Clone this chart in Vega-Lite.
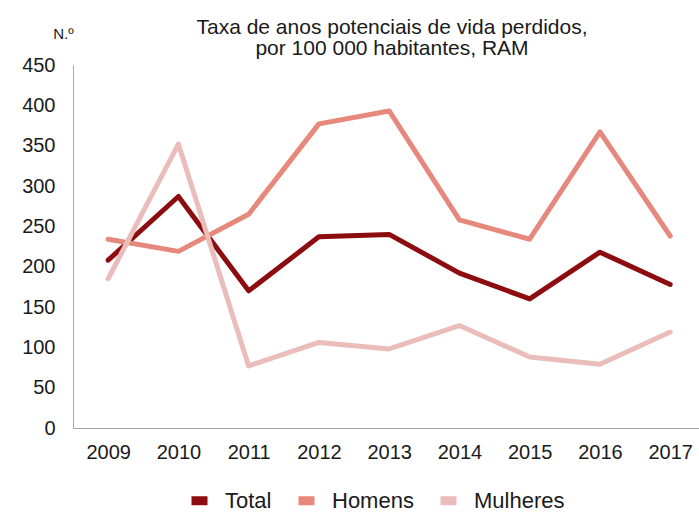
{
  "$schema": "https://vega.github.io/schema/vega-lite/v6.json",
  "width": 626,
  "height": 363,
  "autosize": {"type": "none"},
  "padding": {"left": 73, "top": 65, "right": 0, "bottom": 84},
  "background": "white",
  "config": {"view": {"stroke": null}, "font": "Liberation Sans"},
  "title": {
    "text": ["Taxa de anos potenciais de vida perdidos,", "por 100 000 habitantes, RAM"],
    "fontSize": 21,
    "fontWeight": "normal",
    "color": "#1a1a1a",
    "lineHeight": 21,
    "anchor": "middle",
    "offset": 10,
    "dx": 6,
    "dy": 43
  },
  "data": {
    "values": [
      {"year": 2009, "series": "Total", "value": 208},
      {"year": 2010, "series": "Total", "value": 287},
      {"year": 2011, "series": "Total", "value": 170},
      {"year": 2012, "series": "Total", "value": 237},
      {"year": 2013, "series": "Total", "value": 240},
      {"year": 2014, "series": "Total", "value": 192},
      {"year": 2015, "series": "Total", "value": 160},
      {"year": 2016, "series": "Total", "value": 218},
      {"year": 2017, "series": "Total", "value": 178},
      {"year": 2009, "series": "Homens", "value": 234},
      {"year": 2010, "series": "Homens", "value": 219},
      {"year": 2011, "series": "Homens", "value": 265},
      {"year": 2012, "series": "Homens", "value": 377},
      {"year": 2013, "series": "Homens", "value": 393},
      {"year": 2014, "series": "Homens", "value": 258},
      {"year": 2015, "series": "Homens", "value": 234},
      {"year": 2016, "series": "Homens", "value": 367},
      {"year": 2017, "series": "Homens", "value": 238},
      {"year": 2009, "series": "Mulheres", "value": 185},
      {"year": 2010, "series": "Mulheres", "value": 352},
      {"year": 2011, "series": "Mulheres", "value": 77},
      {"year": 2012, "series": "Mulheres", "value": 106},
      {"year": 2013, "series": "Mulheres", "value": 98},
      {"year": 2014, "series": "Mulheres", "value": 127},
      {"year": 2015, "series": "Mulheres", "value": 88},
      {"year": 2016, "series": "Mulheres", "value": 79},
      {"year": 2017, "series": "Mulheres", "value": 119}
    ]
  },
  "mark": {"type": "line", "strokeWidth": 5, "strokeJoin": "round", "strokeCap": "round"},
  "encoding": {
    "x": {
      "field": "year",
      "type": "quantitative",
      "scale": {"domain": [2008.5, 2017.41], "nice": false, "zero": false},
      "axis": {
        "title": null,
        "values": [2009, 2010, 2011, 2012, 2013, 2014, 2015, 2016, 2017],
        "format": "d",
        "ticks": false,
        "grid": false,
        "domainColor": "#a6a6a6",
        "domainWidth": 1,
        "labelFontSize": 20,
        "labelColor": "#1a1a1a",
        "labelPadding": 14,
        "labelFlush": false,
        "labelOverlap": false
      }
    },
    "y": {
      "field": "value",
      "type": "quantitative",
      "scale": {"domain": [0, 450], "nice": false},
      "axis": {
        "title": "N.º",
        "titleAngle": 0,
        "titleFontSize": 15,
        "titleFontWeight": "normal",
        "titleColor": "#1a1a1a",
        "titleAlign": "center",
        "titleBaseline": "middle",
        "titleX": -10,
        "titleY": -32,
        "values": [0, 50, 100, 150, 200, 250, 300, 350, 400, 450],
        "ticks": false,
        "grid": false,
        "domainColor": "#a6a6a6",
        "domainWidth": 1,
        "labelFontSize": 20,
        "labelColor": "#1a1a1a",
        "labelPadding": 18
      }
    },
    "color": {
      "field": "series",
      "type": "nominal",
      "sort": ["Total", "Homens", "Mulheres"],
      "scale": {"domain": ["Total", "Homens", "Mulheres"], "range": ["#8c0c0f", "#e6887b", "#eabdbb"]},
      "legend": {
        "title": null,
        "orient": "none",
        "legendX": 114,
        "legendY": 423,
        "direction": "horizontal",
        "symbolType": "stroke",
        "symbolSize": 256,
        "symbolStrokeWidth": 9,
        "labelFontSize": 22,
        "labelColor": "#1a1a1a",
        "labelOffset": 13,
        "columnPadding": 8
      }
    }
  }
}
